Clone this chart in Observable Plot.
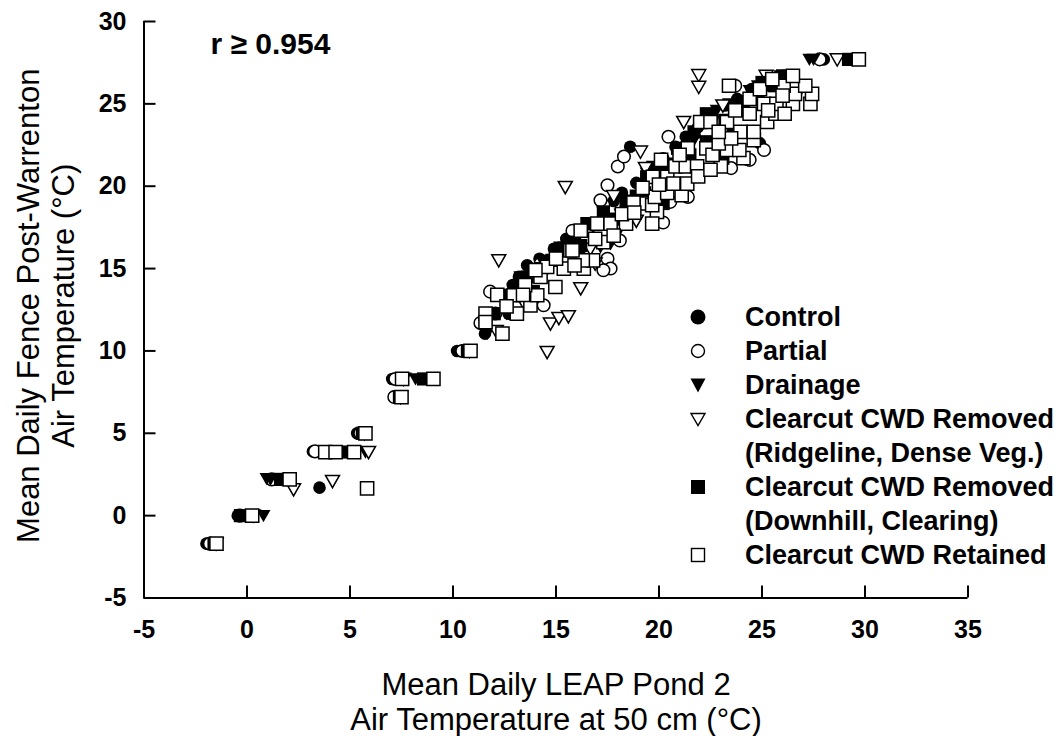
<!DOCTYPE html>
<html><head><meta charset="utf-8">
<script src="https://cdn.jsdelivr.net/npm/d3@7"></script>
<script src="https://cdn.jsdelivr.net/npm/@observablehq/plot@0.6"></script>
<style>
body{margin:0;background:#fff;}
#wrap{position:relative;width:1062px;height:736px;font-family:"Liberation Sans",Arial,sans-serif;}
#legend{position:absolute;left:686px;top:300px;}
.row{display:flex;align-items:center;height:34px;line-height:34px;font-weight:bold;font-size:27px;color:#000;white-space:nowrap;}
.row .sym{width:24px;height:24px;margin-right:35px;flex:none;}
g[aria-label="x-axis tick label"] text, g[aria-label="y-axis tick label"] text{font-weight:bold;}
</style></head><body><div id="wrap"><div id="legend"></div></div>
<script>
// ---- data ----
const xTicks = [-5, 0, 5, 10, 15, 20, 25, 30, 35];
const yTicks = [-5, 0, 5, 10, 15, 20, 25, 30];
const xTitle = ["Mean Daily LEAP Pond 2", "Air Temperature at 50 cm (°C)"];
const yTitle = ["Mean Daily Fence Post-Warrenton", "Air Temperature (°C)"];
const note = "r ≥ 0.954";
const seriesNames = [
  ["Control"],
  ["Partial"],
  ["Drainage"],
  ["Clearcut CWD Removed", "(Ridgeline, Dense Veg.)"],
  ["Clearcut CWD Removed", "(Downhill, Clearing)"],
  ["Clearcut CWD Retained"]
];

const control = [
  [-1.97,-1.7],[-0.45,0.0],[1.3,2.2],[3.52,1.7],[3.2,3.9],[5.35,5.0],[7.05,8.3],[10.2,10.0],
  [11.45,11.7],[11.55,11.05],[12.7,12.26],[12.3,13.4],[12.9,14.0],[13.2,14.5],[13.6,15.2],[14.2,15.6],
  [14.9,16.2],[15.5,16.8],[16.0,17.3],[16.6,17.7],[17.3,18.4],[17.8,19.1],[18.2,19.6],[18.6,22.4],
  [18.9,20.2],[19.5,21.0],[20.2,21.7],[20.8,22.4],[21.3,23.0],[21.9,23.6],[22.6,24.2],[23.2,24.9],
  [23.8,25.3],[24.5,25.9],[25.1,26.3],[26.05,26.7],[24.9,22.6],[24.3,21.6],[28.0,27.7]
];
const partial = [
  [-1.8,-1.7],[-0.35,0.0],[1.2,2.2],[3.3,3.9],[5.5,5.0],[7.2,8.3],[7.15,7.2],[10.45,10.0],
  [11.33,11.7],[11.8,13.6],[12.06,12.27],[14.4,12.77],[14.25,15.3],[15.8,17.3],[17.5,15.6],[17.65,15.0],
  [17.3,14.9],[18.1,16.7],[17.3,18.85],[17.16,19.15],[17.5,20.06],[18.0,21.2],[18.3,21.8],[20.2,17.8],
  [20.55,19.05],[21.4,19.35],[20.46,23.0],[23.5,21.1],[24.4,21.6],[25.1,22.2],[23.7,26.1],[27.8,27.7]
];
const drainage = [
  [-1.55,-1.7],[0.8,0.0],[1.14,2.2],[0.95,2.25],[5.75,3.86],[8.18,8.3],[11.66,11.05],
  [12.6,12.27],[12.45,13.4],[13.27,14.5],[13.5,14.5],[14.4,15.5],[14.4,15.3],[15.2,16.3],[15.4,16.3],
  [16.2,15.9],[17.16,16.3],[17.65,16.5],[17.97,17.1],[18.13,18.3],[18.45,19.15],[19.1,20.0],[19.4,20.8],
  [19.7,21.2],[21.0,21.8],[21.7,22.8],[22.0,23.6],[22.8,24.6],[23.96,25.2],[24.4,25.8],[24.8,26.1],
  [25.9,26.7],[27.3,27.7],[27.5,27.7],[20.4,21.4],[23.4,25.0],[25.4,26.5],[22.4,23.9],[16.8,17.5]
];
const ridgeline = [
  [-1.5,-1.7],[0.3,0.0],[2.26,1.6],[4.15,2.1],[5.9,3.86],[5.7,5.0],[7.45,7.2],[7.6,8.3],[10.8,10.0],
  [12.22,15.5],[14.57,9.93],[14.73,11.66],[15.14,12.0],[15.6,12.1],[16.2,13.8],[12.1,11.2],[13.4,13.0],
  [16.67,16.2],[16.9,15.3],[17.8,19.4],[15.45,19.95],[18.9,17.9],[19.1,22.1],[19.34,21.1],[20.3,19.9],
  [21.2,23.9],[23.1,24.9],[21.93,26.74],[21.93,26.03],[25.2,26.7],[25.2,26.1],[26.6,25.3],[28.65,27.7]
];
const downhill = [
  [-1.6,-1.7],[-0.32,0.0],[1.63,2.2],[4.78,3.86],[5.6,5.0],[7.4,7.2],[8.57,8.3],[10.7,10.0],
  [12.0,12.26],[12.7,13.38],[13.6,14.49],[14.3,15.0],[15.1,16.1],[15.9,16.6],[16.5,17.73],[17.3,18.44],
  [18.4,19.0],[19.3,19.6],[19.4,20.57],[20.2,18.95],[20.5,21.2],[20.9,22.3],[21.7,23.3],[23.1,21.7],
  [22.3,24.4],[23.6,23.3],[24.0,25.0],[24.8,25.6],[25.6,26.1],[26.0,26.7],[29.2,27.7],
  [14.8,15.5],[16.2,16.4],[17.9,18.0],[18.9,19.4],[21.5,21.9],[22.3,22.7],[23.2,24.0],[24.1,24.6],
  [25.0,26.3],[19.9,20.9],[13.9,13.6]
];
const retained = [
  [-1.48,-1.7],[0.25,0.0],[2.07,2.2],[5.83,1.65],[3.8,3.86],[4.3,3.86],[5.2,3.86],[5.75,5.0],
  [7.53,8.3],[9.05,8.3],[7.5,7.2],[10.85,10.0],
  [12.15,13.4],[11.58,12.26],[13.1,12.26],[11.58,11.75],[12.4,11.05],[13.76,12.77],[12.94,13.38],[14.09,13.38],
  [14.25,14.49],[14.97,13.88],[14.57,15.1],[15.38,15.0],[16.35,15.0],[15.7,16.1],[16.8,15.5],[17.3,16.6],
  [16.2,17.3],[16.3,15.5],[15.8,16.1],[17.0,17.73],[17.65,17.73],[18.4,17.73],[19.4,18.95],[19.9,18.44],
  [19.67,17.73],[18.76,19.0],[19.67,18.85],[19.8,19.35],[20.4,19.6],[21.1,19.45],[19.7,20.57],[20.4,20.57],
  [20.7,20.16],[21.37,20.16],[20.8,21.2],[21.3,21.2],[21.85,21.2],[23.0,21.2],[24.1,21.7],[21.4,22.3],
  [22.3,22.3],[23.3,22.2],[23.9,22.2],[24.6,22.8],[22.0,23.9],[22.5,23.9],[23.3,23.9],[23.95,23.3],
  [24.6,23.3],[25.25,23.9],[24.4,24.4],[25.65,24.4],[25.1,25.0],[25.7,25.0],[26.5,25.0],[27.35,25.0],
  [26.6,25.6],[27.43,25.6],[26.05,26.1],[27.1,26.1],[26.5,26.7],[23.4,26.1],[29.7,27.7],
  [13.5,14.0],[14.0,14.9],[15.0,15.6],[15.9,15.2],[16.9,16.8],[17.8,17.0],[18.2,18.3],[18.8,18.4],
  [19.2,19.9],[20.0,20.1],[21.9,20.6],[22.5,21.0],[22.6,21.9],[22.9,22.6],[23.5,22.9],[22.9,23.3],
  [23.7,24.6],[24.4,25.3],[24.9,25.9],[25.5,26.5],[26.0,25.5],[25.3,24.6],[26.1,24.4],[21.0,21.9],
  [20.1,21.6],[12.6,12.7],[13.4,13.4]
];

// ---- symbols ----
const triDown = {draw(ctx, size) {
  const r = Math.sqrt(size / Math.PI);
  ctx.moveTo(-r, -0.8 * r); ctx.lineTo(r, -0.8 * r); ctx.lineTo(0, 0.95 * r); ctx.closePath();
}};
const squareSym = {draw(ctx, size) {
  const r = Math.sqrt(size / Math.PI);
  ctx.moveTo(-r, -r); ctx.lineTo(r, -r); ctx.lineTo(r, r); ctx.lineTo(-r, r); ctx.closePath();
}};

const X = d => d[0], Y = d => d[1];
const filled = {fill: "black", stroke: "none"};
const open = {fill: "white", stroke: "black", strokeWidth: 1.5};

const chart = Plot.plot({
  width: 1062, height: 736,
  marginLeft: 143.5, marginRight: 94.5, marginTop: 21, marginBottom: 138.5,
  x: {domain: [xTicks[0], xTicks[xTicks.length - 1]]},
  y: {domain: [yTicks[0], yTicks[yTicks.length - 1]]},
  style: {fontFamily: "'Liberation Sans', Arial, sans-serif", fontSize: "25px", background: "white", overflow: "visible"},
  marks: [
    Plot.axisX({ticks: xTicks, tickFormat: d => String(d), tickSize: -12, tickPadding: 34, strokeWidth: 2,
      fontSize: 25, fontWeight: "bold", label: null}),
    Plot.axisY({ticks: yTicks, tickFormat: d => String(d), tickSize: -12, tickPadding: 29.5, strokeWidth: 2,
      fontSize: 25, fontWeight: "bold", label: null}),
    Plot.ruleY([yTicks[0]], {strokeWidth: 2}),
    Plot.ruleX([xTicks[0]], {strokeWidth: 2}),
    Plot.dot(control, {x: X, y: Y, r: 6.3, symbol: "circle", ...filled}),
    Plot.dot(partial, {x: X, y: Y, r: 6.3, symbol: "circle", ...open}),
    Plot.dot(drainage, {x: X, y: Y, r: 7, symbol: triDown, ...filled}),
    Plot.dot(ridgeline, {x: X, y: Y, r: 7, symbol: triDown, ...open}),
    Plot.dot(downhill, {x: X, y: Y, r: 6.6, symbol: squareSym, ...filled}),
    Plot.dot(retained, {x: X, y: Y, r: 6.6, symbol: squareSym, ...open}),
    Plot.text([note], {text: d => d, frameAnchor: "top-left", dx: 66.5, dy: 10.7, textAnchor: "start",
      lineAnchor: "top", fontSize: 30, fontWeight: "bold", fill: "black"}),
    Plot.text([xTitle.join("\n")], {text: d => d, frameAnchor: "bottom", dy: 72.5, lineAnchor: "top",
      textAnchor: "middle", fontSize: 31, lineHeight: 35 / 31, fill: "black"}),
    Plot.text([yTitle.join("\n")], {text: d => d, frameAnchor: "left", rotate: -90, dx: -98.5, dy: -4,
      textAnchor: "middle", lineAnchor: "middle", fontSize: 31, lineHeight: 35 / 31, fill: "black"})
  ]
});
document.getElementById("wrap").prepend(chart);

// ---- legend ----
const legendSyms = [
  '<circle cx="12" cy="12" r="7.5" fill="#000"/>',
  '<circle cx="12" cy="12" r="6.5" fill="#fff" stroke="#000" stroke-width="1.4"/>',
  '<path d="M4.5,5.5H19.5L12,19.5Z" fill="#000"/>',
  '<path d="M5,6.5H19L12,18.5Z" fill="#fff" stroke="#000" stroke-width="1.4"/>',
  '<rect x="5" y="5" width="14" height="14" fill="#000"/>',
  '<rect x="5.5" y="5.5" width="13" height="13" fill="#fff" stroke="#000" stroke-width="1.4"/>'
];
const legend = document.getElementById("legend");
seriesNames.forEach((lines, i) => {
  lines.forEach((line, j) => {
    const row = document.createElement("div");
    row.className = "row";
    const sym = j === 0 ? `<svg class="sym" viewBox="0 0 24 24">${legendSyms[i]}</svg>` : `<span class="sym"></span>`;
    row.innerHTML = sym + `<span></span>`;
    row.lastChild.textContent = line;
    legend.appendChild(row);
  });
});
</script></body></html>
